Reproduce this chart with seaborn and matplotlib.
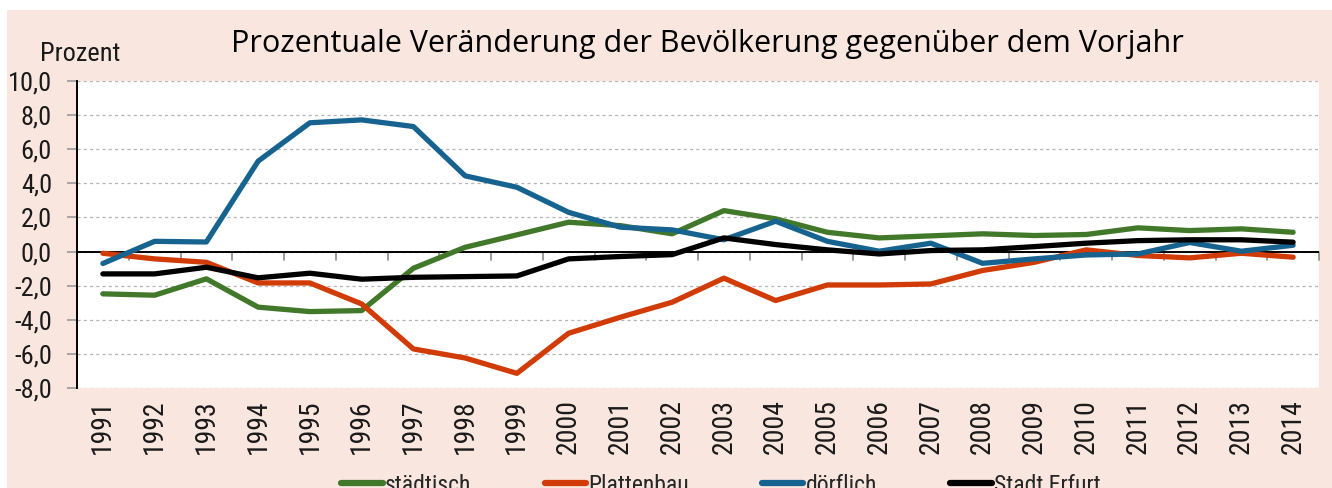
"""Prozentuale Veränderung der Bevölkerung gegenüber dem Vorjahr (Erfurt)."""
import matplotlib
matplotlib.use("Agg")
import matplotlib.pyplot as plt
from matplotlib import font_manager
from matplotlib.patches import Rectangle
from matplotlib.ticker import FuncFormatter
import pandas as pd
import seaborn as sns

years = [str(y) for y in range(1991, 2015)]

staedtisch = [-2.48, -2.56, -1.60, -3.26, -3.52, -3.46, -0.98, 0.25, 0.98, 1.72,
              1.52, 1.04, 2.40, 1.92, 1.13, 0.80, 0.92, 1.04, 0.94, 1.00,
              1.39, 1.23, 1.33, 1.13]
plattenbau = [-0.10, -0.43, -0.63, -1.84, -1.84, -3.07, -5.71, -6.24, -7.14, -4.79,
              -3.85, -2.97, -1.56, -2.87, -1.96, -1.96, -1.90, -1.11, -0.63, 0.10,
              -0.23, -0.37, -0.10, -0.33]
doerflich = [-0.70, 0.60, 0.56, 5.30, 7.55, 7.72, 7.33, 4.44, 3.77, 2.30,
             1.43, 1.27, 0.69, 1.78, 0.60, 0.02, 0.49, -0.69, -0.43, -0.20,
             -0.14, 0.53, 0.02, 0.37]
erfurt = [-1.31, -1.31, -0.92, -1.54, -1.27, -1.62, -1.51, -1.47, -1.43, -0.43,
          -0.29, -0.18, 0.80, 0.41, 0.10, -0.14, 0.06, 0.10, 0.29, 0.49,
          0.64, 0.69, 0.69, 0.55]

series_names = ["städtisch", "Plattenbau", "dörflich", "Stadt Erfurt"]
series_colors = ["#41782a", "#d13b06", "#17638f", "#000000"]
y_ticks = [-8, -6, -4, -2, 0, 2, 4, 6, 8, 10]

BG = "#f9e6df"

available = {f.name for f in font_manager.fontManager.ttflist}
narrow = next((f for f in ["Roboto Condensed", "Liberation Sans Narrow",
                           "Open Sans Condensed", "Noto Sans"] if f in available),
              "DejaVu Sans")
title_font = "Open Sans" if "Open Sans" in available else "DejaVu Sans"

df = pd.DataFrame({
    "Jahr": years * 4,
    "x": list(range(len(years))) * 4,
    "Wert": staedtisch + plattenbau + doerflich + erfurt,
    "Gebiet": sum([[n] * len(years) for n in series_names], []),
})

sns.set_theme(style="white")
plt.rcParams["font.family"] = [narrow, "DejaVu Sans"]

fig = plt.figure(figsize=(13.32, 4.88), dpi=100)
fig.patch.set_facecolor("white")
fig.patches.append(Rectangle((7 / 1332, 0), 1 - 7 / 1332, 1 - 10 / 488,
                             transform=fig.transFigure, facecolor=BG,
                             edgecolor="none", zorder=-10))

ax = fig.add_axes([77 / 1332, 1 - 388 / 488, (1319 - 77) / 1332, (388 - 81) / 488])
ax.set_facecolor("white")

sns.lineplot(data=df, x="x", y="Wert", hue="Gebiet", hue_order=series_names,
             palette=series_colors, linewidth=3.8, ax=ax, legend=False,
             zorder=3)

ax.set_xlim(-0.5, len(years) - 0.5)
ax.set_ylim(-8, 10)
ax.set_yticks(y_ticks)
ax.yaxis.set_major_formatter(FuncFormatter(lambda v, _: f"{v:.1f}".replace(".", ",")))
ax.yaxis.grid(True, color="#b5b5b5", linestyle=(0, (2.5, 2.5)), linewidth=0.9)
ax.tick_params(axis="y", left=True, length=7, width=1.2, color="#9a9a9a",
               labelsize=19, pad=11, labelcolor="#1a1a1a")

ax.set_xticks(range(len(years)))
ax.set_xticklabels(years, rotation=90, fontsize=20, color="#1a1a1a")
ax.tick_params(axis="x", length=0, pad=8)

# Kategorie-Trennstriche an der Nulllinie
for b in range(len(years) + 1):
    ax.plot([b - 0.5, b - 0.5], [0, -0.47], color="#8a8a8a", lw=1.2,
            zorder=2, clip_on=False)
ax.axhline(0, color="black", lw=1.4, zorder=2)

for s in ["top", "right", "bottom"]:
    ax.spines[s].set_visible(False)
ax.spines["left"].set_color("black")
ax.spines["left"].set_linewidth(1.4)
ax.set_xlabel("")
ax.set_ylabel("")

fig.text(707 / 1332, 1 - 44 / 488,
         "Prozentuale Veränderung der Bevölkerung gegenüber dem Vorjahr",
         ha="center", va="center", fontsize=22, family=title_font, color="black")
fig.text(40 / 1332, 1 - 54 / 488, "Prozent", ha="left", va="center",
         fontsize=19, color="#1a1a1a")

handles = [plt.Line2D([], [], color=c, lw=4.5) for c in series_colors]
fig.legend(handles, series_names, loc="center", ncol=4, frameon=False,
           bbox_to_anchor=(721 / 1332, 1 - 485 / 488), fontsize=17,
           handlelength=1.75, handletextpad=0.1, columnspacing=3.1)

fig.savefig("out.png", dpi=100, facecolor=fig.get_facecolor())
